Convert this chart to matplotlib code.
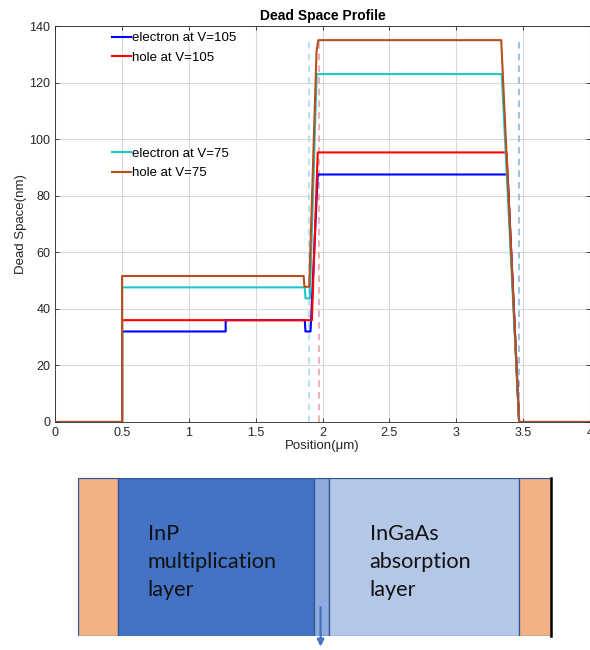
import matplotlib.pyplot as plt
from matplotlib.patches import Rectangle

plt.rcParams['font.family'] = ['Liberation Sans', 'DejaVu Sans']

# dead space profiles: position (um) vs dead space (nm)
e105_x = [0, 0.5, 0.5, 1.275, 1.275, 1.867, 1.872, 1.905, 1.91, 1.964, 3.385, 3.471, 4.0]
e105_y = [0, 0, 32, 32, 36, 36, 32, 32, 32, 87.5, 87.5, 0, 0]
h105_x = [0, 0.5, 0.5, 1.92, 1.964, 3.377, 3.471, 4.0]
h105_y = [0, 0, 36, 36, 95.3, 95.3, 0, 0]
e75_x = [0, 0.5, 0.5, 1.867, 1.872, 1.905, 1.956, 3.341, 3.471, 4.0]
e75_y = [0, 0, 47.6, 47.6, 43.7, 43.7, 123, 123, 0, 0]
h75_x = [0, 0.5, 0.5, 1.859, 1.864, 1.90, 1.955, 1.968, 3.337, 3.471, 4.0]
h75_y = [0, 0, 51.6, 51.6, 47.8, 47.8, 131, 135, 135, 0, 0]

labels = ['electron at V=105', 'hole at V=105', 'electron at V=75', 'hole at V=75']
colors = ['#0000ff', '#ff0000', '#1fc8c8', '#b5501e']

# layer boundaries (dashed markers)
bound_x = [1.896, 1.97, 3.471]
bound_col = ['#a8dcf2', '#eaa2ac', '#8ab8dc']
bound_top = 135

# schematic layers below the chart (widths in pixels)
layer_edges = [0, 40, 236, 251, 441, 473]
layer_cols = ['#f4b183', '#4472c4', '#8faadc', '#b4c7e7', '#f4b183']

fig = plt.figure(figsize=(5.9, 6.5), dpi=100)
ax = fig.add_axes([55.3 / 590, 1 - 422 / 650, 534.5 / 590, 396 / 650])

for bx, bc in zip(bound_x, bound_col):
    ax.vlines(bx, 0, bound_top, colors=bc, linestyles=(0, (4, 3)), lw=1.2, zorder=2)

l1, = ax.plot(e105_x, e105_y, color=colors[0], lw=1.5, zorder=3)
l2, = ax.plot(h105_x, h105_y, color=colors[1], lw=1.5, zorder=3)
l3, = ax.plot(e75_x, e75_y, color=colors[2], lw=1.5, zorder=3)
l4, = ax.plot(h75_x, h75_y, color=colors[3], lw=1.5, zorder=3)

ax.set_xlim(0, 4)
ax.set_ylim(0, 140)
ax.set_xticks([0, 0.5, 1, 1.5, 2, 2.5, 3, 3.5, 4])
ax.set_xticklabels(['0', '0.5', '1', '1.5', '2', '2.5', '3', '3.5', '4'])
ax.set_yticks(range(0, 141, 20))
ax.grid(True, color='#d9d9d9', lw=0.8)
ax.set_axisbelow(True)
ax.tick_params(direction='in', length=3, top=True, right=True, labelsize=9,
               colors='#262626', width=0.6)
for s in ax.spines.values():
    s.set_color('#262626')
    s.set_linewidth(0.6)

ax.set_title('Dead Space Profile', fontsize=10, fontweight='bold', pad=4)
ax.set_xlabel('Position(μm)', fontsize=9.5, color='#262626', labelpad=1)
ax.set_ylabel('Dead Space(nm)', fontsize=9.5, color='#262626', labelpad=2)

leg1 = ax.legend([l1, l2], labels[:2], loc='upper left', bbox_to_anchor=(0.107, 0.985),
                 frameon=False, fontsize=9.5, handlelength=1.4, handletextpad=0.05,
                 labelspacing=0.55, borderpad=0, borderaxespad=0)
ax.add_artist(leg1)
ax.legend([l3, l4], labels[2:], loc='upper left', bbox_to_anchor=(0.107, 0.693),
          frameon=False, fontsize=9.5, handlelength=1.4, handletextpad=0.05,
          labelspacing=0.55, borderpad=0, borderaxespad=0)

# schematic of the device layers
ax2 = fig.add_axes([77.6 / 590, 1 - 636 / 650, 473.4 / 590, 158.4 / 650])
ax2.set_xlim(0, 473.4)
ax2.set_ylim(0, 1)
ax2.axis('off')
for i in range(len(layer_cols)):
    ax2.add_patch(Rectangle((layer_edges[i], 0), layer_edges[i + 1] - layer_edges[i], 1,
                            facecolor=layer_cols[i], edgecolor='#2f5597', lw=0.9))
ax2.plot([473.4, 473.4], [0, 1], color='black', lw=1.8, clip_on=False)

ax2.text(70, 0.47, 'InP\nmultiplication\nlayer', fontsize=15.6, family='Lato',
         color='#111111', va='center', ha='left', linespacing=1.5)
ax2.text(292, 0.47, 'InGaAs\nabsorption\nlayer', fontsize=15.6, family='Lato',
         color='#111111', va='center', ha='left', linespacing=1.5)
ax2.annotate('', xy=(243, -0.085), xytext=(243, 0.2),
             arrowprops=dict(arrowstyle='-|>', color='#4472c4', lw=1.6, mutation_scale=10),
             annotation_clip=False)

fig.savefig('out.png', dpi=100)
